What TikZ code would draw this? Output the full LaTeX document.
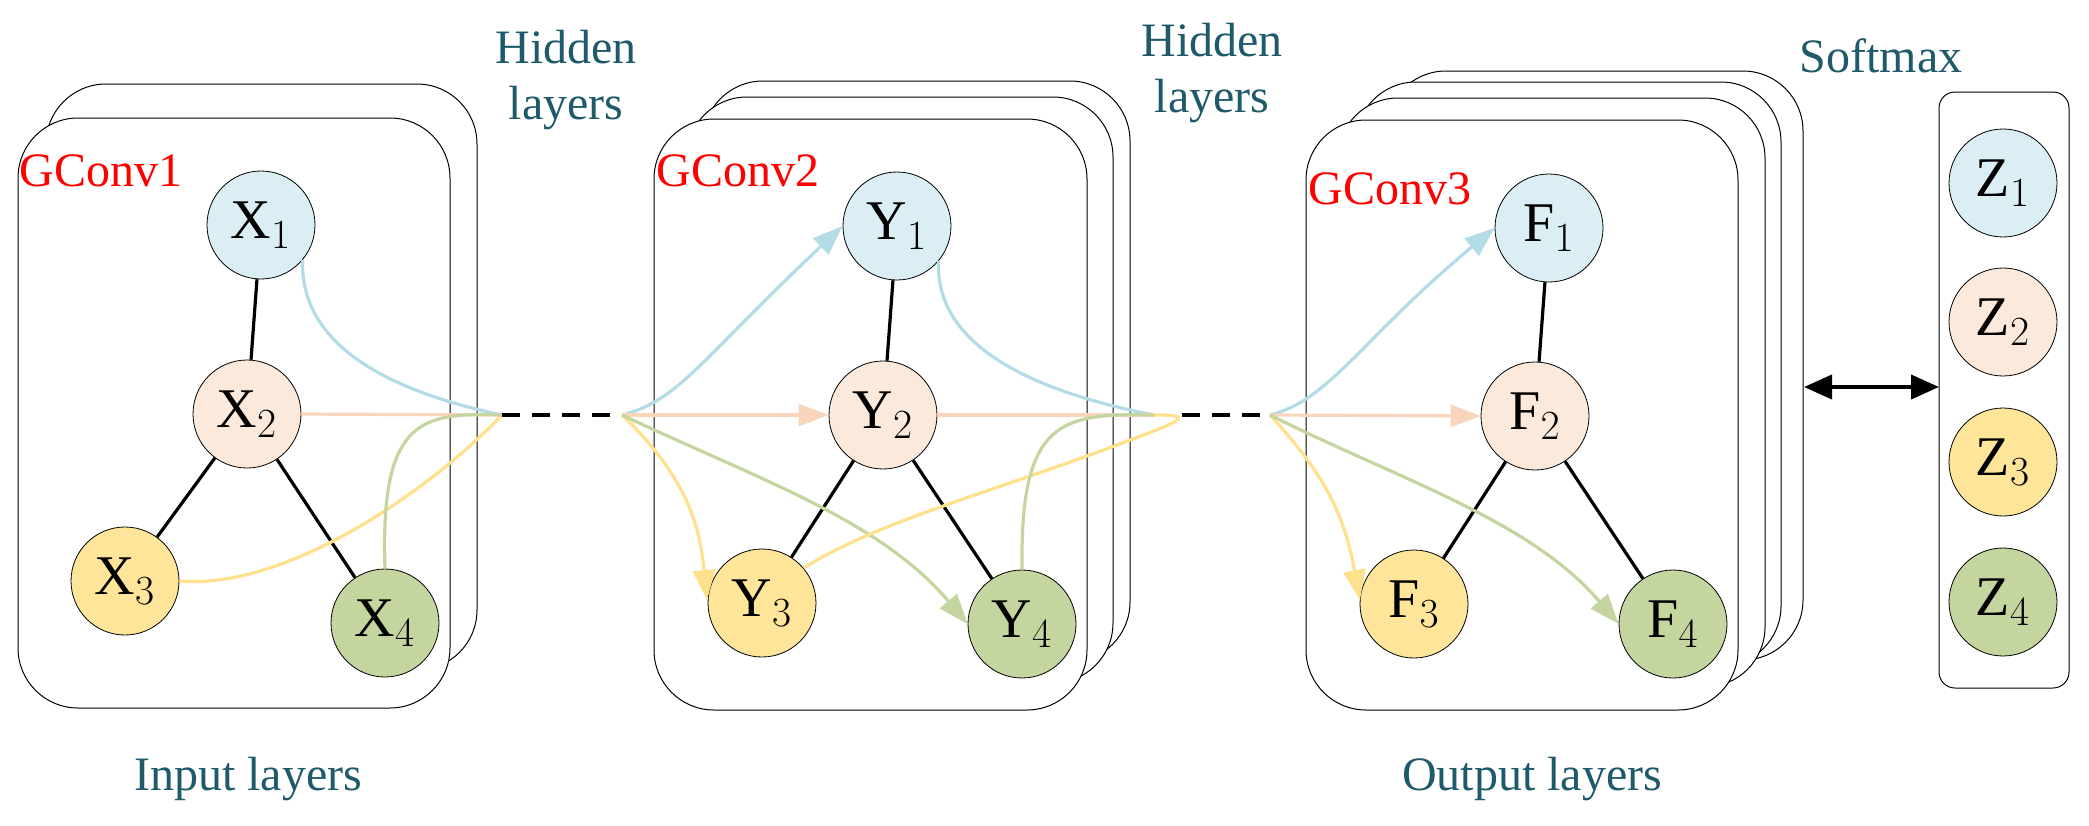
\documentclass[tikz,border=0pt]{standalone}
\usepackage{fontspec}
\setmainfont{Liberation Serif}
\usetikzlibrary{arrows.meta}
\definecolor{tl}{HTML}{1F5A6A}
\definecolor{cb}{HTML}{DAEEF3}\definecolor{lb}{HTML}{B4DCE6}
\definecolor{cp}{HTML}{FBE9DC}\definecolor{lp}{HTML}{F9D5BC}
\definecolor{cy}{HTML}{FFE599}\definecolor{ly}{HTML}{FFE08C}
\definecolor{cg}{HTML}{C4D59F}\definecolor{lg}{HTML}{C4D59F}
\begin{document}
\begin{tikzpicture}[x=0.5pt,y=-0.5pt,
 box/.style={draw,fill=white,line width=0.5pt,rounded corners=30pt},
 nd/.style={circle,draw,line width=0.4pt,minimum size=54pt,inner sep=0pt,font=\fontsize{28}{30}\selectfont},
 lab/.style={text=tl,font=\fontsize{24}{28}\selectfont,align=center},
 red/.style={text=red,font=\fontsize{24}{28}\selectfont,anchor=south west,inner sep=0pt},
 ed/.style={line width=1.6pt},
 cv/.style={line width=1.6pt},
 ar/.style={line width=1.6pt,-{Triangle[length=15pt,width=11pt]}},
 dsh/.style={line width=2pt,dash pattern=on 9pt off 6pt}]
\useasboundingbox (0,0) rectangle (2089,825);
% texts
\node[lab] (h1) at (566,80) {Hidden\\layers};
\node[lab] (h2) at (1212,73) {Hidden\\layers};
\node[lab] (sm) at (1881,56) {Softmax};
\node[lab] (il) at (248,779) {Input layers};
\node[lab] (ol) at (1532,779) {Output layers};
% boxes panel 1
\draw[box] (46,84) rectangle (477,670);
\draw[box] (18,118) rectangle (450,708);
% panel 2
\draw[box] (703,81) rectangle (1130,662);
\draw[box] (687,97) rectangle (1113,683);
\draw[box] (654,119) rectangle (1087,710);
% panel 3
\draw[box] (1386,71) rectangle (1803,660);
\draw[box] (1356,82) rectangle (1781,666);
\draw[box] (1338,98) rectangle (1765,687);
\draw[box] (1306,120) rectangle (1738,710);
% softmax
\draw[box,rounded corners=8pt] (1939,92) rectangle (2069,688);
\node[red] (g1) at (19,187) {GConv1};
\node[red] (g2) at (656,187) {GConv2};
\node[red] (g3) at (1308,205) {GConv3};
% nodes
\node[nd,fill=cb] (x1) at (261,225) {X$_1$};
\node[nd,fill=cp] (x2) at (247,414) {X$_2$};
\node[nd,fill=cy] (x3) at (125,581) {X$_3$};
\node[nd,fill=cg] (x4) at (385,623) {X$_4$};
\node[nd,fill=cb] (y1) at (897,226) {Y$_1$};
\node[nd,fill=cp] (y2) at (883,415) {Y$_2$};
\node[nd,fill=cy] (y3) at (762,603) {Y$_3$};
\node[nd,fill=cg] (y4) at (1022,624) {Y$_4$};
\node[nd,fill=cb] (f1) at (1549,228) {F$_1$};
\node[nd,fill=cp] (f2) at (1535,416) {F$_2$};
\node[nd,fill=cy] (f3) at (1414,604) {F$_3$};
\node[nd,fill=cg] (f4) at (1673,624) {F$_4$};
\node[nd,fill=cb] (z1) at (2003,183) {Z$_1$};
\node[nd,fill=cp] (z2) at (2003,322) {Z$_2$};
\node[nd,fill=cy] (z3) at (2003,462) {Z$_3$};
\node[nd,fill=cg] (z4) at (2003,602) {Z$_4$};
% junctions
\coordinate (j1) at (502,415);
\coordinate (j2) at (622,415);
\coordinate (j3) at (1154,415);
\coordinate (j3b) at (1180,420);
\coordinate (j4) at (1270,415);
\coordinate (sa) at (1804,387);
\coordinate (sb) at (1939,387);
% black edges
\foreach \a/\b in {x1/x2,x2/x3,x2/x4,y1/y2,y2/y3,y2/y4,f1/f2,f2/f3,f2/f4}
  \draw[ed] (\a) -- (\b);
% panel 1 outgoing
\draw[cv,lb] (x1.-40) .. controls (300,330) and (360,385) .. (j1);
\draw[cv,lp] (x2.east) -- (j1);
\draw[cv,ly] (x3.east) .. controls (280,590) and (420,500) .. (j1);
\draw[cv,lg] (x4.north) .. controls (380,420) and (420,412) .. (j1);
\draw[dsh] (j1) -- (j2);
% panel 2 incoming
\draw[ar,lb] (j2) .. controls (680,400) and (700,360) .. (y1.west);
\draw[ar,lp] (j2) -- (y2.west);
\draw[ar,ly] (j2) .. controls (690,480) and (700,530) .. (707,600);
\draw[ar,lg] (j2) .. controls (760,480) and (880,520) .. (y4.west);
% panel 2 outgoing
\draw[cv,lb] (y1.-40) .. controls (935,330) and (1000,385) .. (j3);
\draw[cv,lp] (y2.east) -- (j3);
\draw[cv,ly] (y3.40) .. controls (880,520) and (1000,490) .. (1130,440) .. controls (1190,418) and (1190,415) .. (j3);
\draw[cv,lg] (y4.north) .. controls (1020,420) and (1060,413) .. (j3);
\draw[dsh] (1182,415) -- (j4);
% panel 3 incoming
\draw[ar,lb] (j4) .. controls (1330,400) and (1360,340) .. (f1.west);
\draw[ar,lp] (j4) -- (f2.west);
\draw[ar,ly] (j4) .. controls (1330,480) and (1345,520) .. (1360,600);
\draw[ar,lg] (j4) .. controls (1400,480) and (1530,520) .. (f4.west);
% softmax arrow
\draw[line width=2pt,{Triangle[length=14pt,width=12pt]}-{Triangle[length=14pt,width=12pt]}] (sa) -- (sb);
\end{tikzpicture}
\end{document}
